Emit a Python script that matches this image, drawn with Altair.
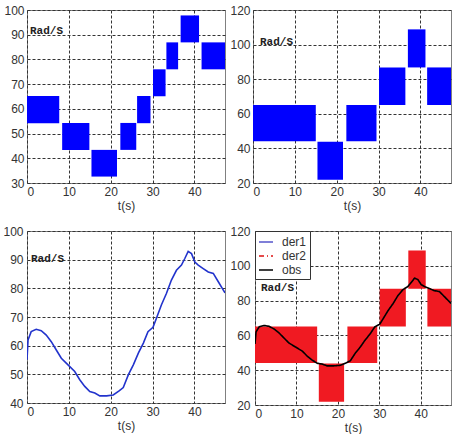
import altair as alt
import pandas as pd

# ---------------- data ----------------
# top-left panel: reference speed (blue bands)
ref_t0 = [0.0, 8.4, 15.4, 22.3, 26.3, 30.1, 33.3, 36.7, 41.7]
ref_t1 = [7.7, 14.9, 21.5, 26.1, 29.5, 33.1, 36.1, 41.1, 47.3]
ref_lo = [54.2, 43.4, 32.6, 43.4, 54.2, 65.1, 76.0, 86.9, 76.0]
ref_hi = [65.2, 54.3, 43.4, 54.3, 65.2, 76.0, 86.9, 97.8, 86.9]

# top-right / bottom-right panels: estimated speed bands (der)
der_t0 = [0.0, 15.4, 22.3, 30.1, 37.0, 41.6]
der_t1 = [15.0, 21.5, 29.5, 36.4, 41.2, 47.3]
der_lo = [44.2, 21.9, 44.2, 65.1, 86.8, 65.1]
der_hi = [65.1, 43.9, 65.1, 86.8, 108.8, 86.8]

# bottom panels: observed speed curve
obs_t = [0.0, 0.25, 1.0, 2.2, 3.4, 4.6, 5.8, 7.0, 8.2, 9.8, 11.4, 12.6, 13.8,
         15.0, 16.2, 17.4, 19.0, 20.6, 22.0, 23.0, 24.2, 25.4, 26.6, 27.8,
         28.9, 30.1, 30.9, 32.1, 33.3, 34.5, 35.7, 36.9, 37.7, 38.5, 39.3,
         40.1, 40.9, 42.1, 43.3, 44.5, 45.7, 46.9, 47.3]
obs_w = [55.1, 62.0, 64.9, 65.7, 65.2, 63.7, 61.4, 58.5, 55.6, 53.3, 51.0, 48.1, 45.8,
         44.0, 43.5, 42.5, 42.5, 42.8, 44.2, 45.4, 49.8, 53.3, 57.4, 60.9,
         64.9, 66.4, 69.5, 74.2, 78.2, 82.9, 86.3, 88.1, 90.4, 92.9, 92.1,
         89.2, 88.1, 86.9, 85.7, 85.2, 82.3, 79.4, 78.4]

legend_names = ["der1", "der2", "obs"]
unit_label = ["Rad/S"]
x_ticks = [0, 10, 20, 30, 40]
y_ticks_ref = [30, 40, 50, 60, 70, 80, 90, 100]
y_ticks_der = [20, 40, 60, 80, 100, 120]
y_ticks_obs = [40, 50, 60, 70, 80, 90, 100]
x_label = "t(s)"

ref_df = pd.DataFrame({"t0": ref_t0, "t1": ref_t1, "lo": ref_lo, "hi": ref_hi})
der_df = pd.DataFrame({"t0": der_t0, "t1": der_t1, "lo": der_lo, "hi": der_hi})
obs_df = pd.DataFrame({"t": obs_t, "w": obs_w, "series": ["obs"] * len(obs_t)})
lab_df = pd.DataFrame({"label": unit_label})

XDOM = [0, 47.3]
GRID = dict(grid=True, gridDash=[3, 2], gridColor="#333333", gridOpacity=1, gridWidth=1,
            ticks=False, domain=False, labelOverlap=False)


def xenc(field):
    return alt.X(field, scale=alt.Scale(domain=XDOM, nice=False, zero=False),
                 axis=alt.Axis(values=x_ticks, title=x_label, labelPadding=3,
                               titlePadding=3, **GRID))


def yenc(field, dom, vals, pad):
    return alt.Y(field, scale=alt.Scale(domain=dom, nice=False, zero=False),
                 axis=alt.Axis(values=vals, title=None, labelPadding=pad, **GRID))


def unit_text(px, py):
    return alt.Chart(lab_df).mark_text(
        font="Liberation Mono", fontWeight="bold", fontSize=11, align="left",
        baseline="middle", color="#222222").encode(
        text="label:N", x=alt.value(px), y=alt.value(py))


def band_panel(df, dom, vals, pad, color, w, h, px, py):
    rects = alt.Chart(df).mark_rect(color=color, clip=True).encode(
        x=xenc("t0:Q"), x2="t1", y=yenc("lo:Q", dom, vals, pad), y2="hi")
    return alt.layer(rects, unit_text(px, py)).properties(width=w, height=h)


p1 = band_panel(ref_df, [30, 100], y_ticks_ref, 3, "#0000ff", 198, 173, 3, 21)
p2 = band_panel(der_df, [20, 120], y_ticks_der, 3, "#0000ff", 198, 173, 7, 32)

line3 = alt.Chart(obs_df).mark_line(color="#2233cc", strokeWidth=1.6, clip=True).encode(
    x=xenc("t:Q"), y=yenc("w:Q", [40, 100], y_ticks_obs, 4))
p3 = alt.layer(line3, unit_text(4, 28)).properties(width=198, height=172)

bands4 = alt.Chart(der_df).mark_rect(color="#f01a22", clip=True).encode(
    x=xenc("t0:Q"), x2="t1", y=yenc("lo:Q", [20, 120], y_ticks_der, 5), y2="hi")
line4 = alt.Chart(obs_df).mark_line(strokeWidth=1.6, clip=True).encode(
    x=xenc("t:Q"), y=yenc("w:Q", [20, 120], y_ticks_der, 5),
    color=alt.Color("series:N", title=None,
                    scale=alt.Scale(domain=legend_names, range=["#5555cc", "#dd1111", "#000000"]),
                    legend=alt.Legend(orient="top-left", offset=0, padding=3,
                                      strokeColor="#333333", fillColor="white",
                                      symbolType="stroke", symbolSize=196,
                                      symbolStrokeWidth=1.5, labelFontSize=12,
                                      labelFont="Liberation Sans", labelColor="#333333",
                                      rowPadding=0, labelOffset=8)),
    strokeDash=alt.StrokeDash("series:N", title=None,
                              scale=alt.Scale(domain=legend_names,
                                              range=[[1, 0], [5, 3, 1, 3], [1, 0]])))
p4 = alt.layer(bands4, line4, unit_text(6, 57)).properties(width=196, height=174)

row1 = alt.hconcat(p1, p2, spacing=3)
row2 = alt.hconcat(p3, p4, spacing=3).resolve_scale(
    color="independent", strokeDash="independent").resolve_legend(
    color="independent", strokeDash="independent")

chart = alt.vconcat(row1, row2, spacing=12).resolve_scale(
    color="independent", strokeDash="independent").resolve_legend(
    color="independent", strokeDash="independent").properties(
    padding={"left": 2, "top": 3, "right": 0, "bottom": 0},
    background="white",
).configure_view(
    stroke="#808080", strokeWidth=1
).configure_axis(
    labelFont="Liberation Sans", labelFontSize=12, labelColor="#333333",
    titleFont="Liberation Sans", titleFontSize=12, titleFontWeight="normal",
    titleColor="#333333"
)

chart.save("out.html", embed_options={"renderer": "svg", "actions": False})
